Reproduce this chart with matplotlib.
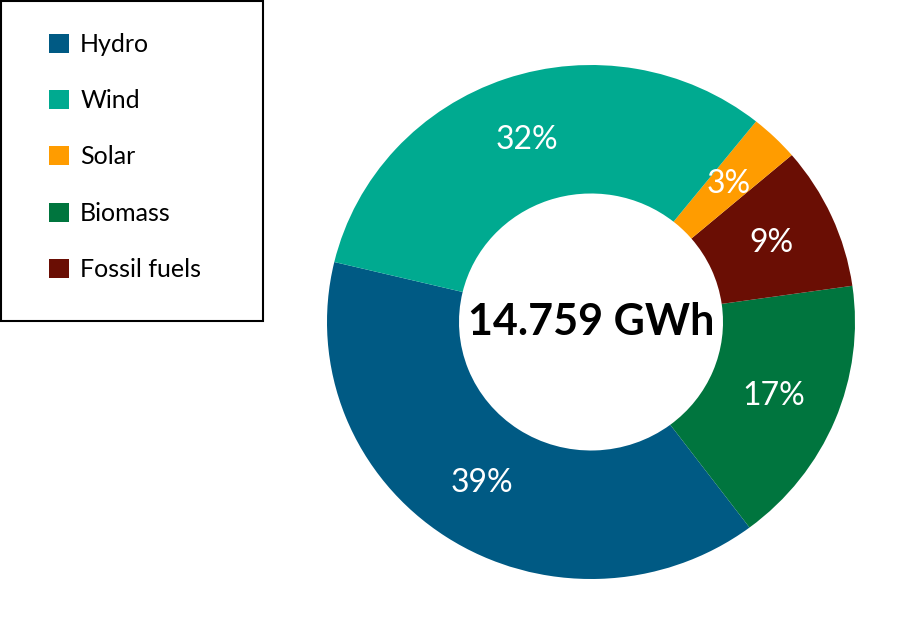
import matplotlib
matplotlib.use("Agg")
import matplotlib.pyplot as plt
from matplotlib.patches import Patch, Rectangle

plt.rcParams["font.family"] = ["Lato", "DejaVu Sans"]

# data, in legend order
sources = ["Hydro", "Wind", "Solar", "Biomass", "Fossil fuels"]
shares = [39, 32, 3, 17, 9]
colors = ["#005A84", "#00AA90", "#FF9C00", "#00753E", "#6A0E04"]
total_label = "14.759 GWh"

# order the ring is drawn in, counter-clockwise from the left side
ring_order = ["Hydro", "Biomass", "Fossil fuels", "Solar", "Wind"]

W, H = 900, 639
fig = plt.figure(figsize=(W / 100, H / 100), dpi=100)
ax = fig.add_axes([0, 0, 1, 1])

idx = [sources.index(s) for s in ring_order]
wedges, texts, autotexts = ax.pie(
    [shares[i] for i in idx],
    colors=[colors[i] for i in idx],
    startangle=166.5,
    counterclock=True,
    radius=1.0,
    wedgeprops=dict(width=0.5, linewidth=0),
    autopct="%d%%",
    pctdistance=0.75,
    frame=True,
    textprops=dict(color="white", fontsize=23),
)

# slightly squashed ring, as in the picture
cx, cy, rx, ry = 591, 322, 264, 257
ax.set_aspect("auto")
ax.set_xlim(-cx / rx, (W - cx) / rx)
ax.set_ylim(-(H - cy) / ry, cy / ry)
ax.axis("off")

ax.text(0, 0, total_label, ha="center", va="center",
        fontsize=31, fontweight="bold", color="black")

handles = [Patch(facecolor=c, edgecolor="none") for c in colors]
fig.legend(handles, sources, loc="upper left",
           bbox_to_anchor=(49 / W, 1 - 33 / H),
           frameon=False, fontsize=18, borderpad=0, borderaxespad=0,
           handlelength=0.8, handleheight=0.8, handletextpad=0.45,
           labelspacing=1.33)
fig.patches.append(Rectangle((1 / W, 1 - 321 / H), 262 / W, 320 / H,
                             transform=fig.transFigure, fill=False,
                             edgecolor="black", linewidth=1.5))

fig.savefig("out.png", dpi=100)
